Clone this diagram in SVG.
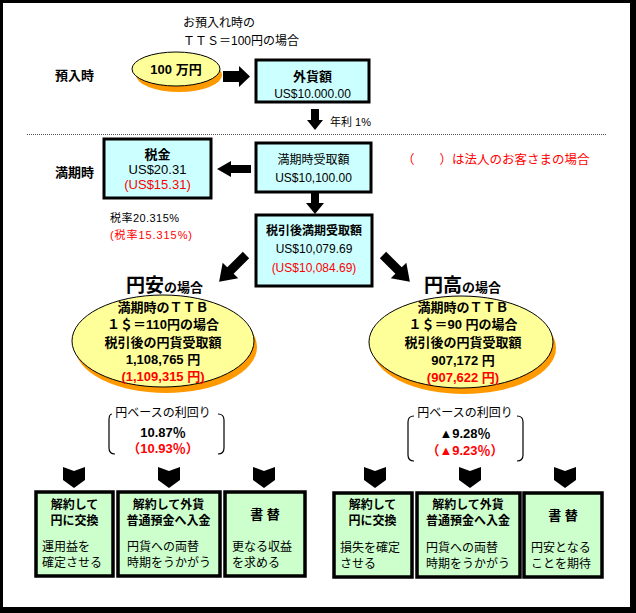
<svg xmlns="http://www.w3.org/2000/svg" width="636" height="613" viewBox="0 0 636 613">
<style>
text { font-family: "Liberation Sans", "Noto Sans CJK JP", sans-serif; fill: #000; }
.c { text-anchor: middle; }
.b { font-weight: bold; }
.r { fill: #FF0000; }
.s11 { font-size: 11px; }
.s12 { font-size: 12px; }
.s13 { font-size: 13px; }
.cy { fill: #CCFFFF; stroke: #000; stroke-width: 3; }
.gr { fill: #CCFFCC; stroke: #000; stroke-width: 3.5; }
.yel { fill: #FFFF99; stroke: #000; stroke-width: 1; }
.org { fill: #FF9900; stroke: none; }
.arr { fill: #000; stroke: none; }
.brk { fill: none; stroke: #000; stroke-width: 1.2; }
</style>
<defs>
<polygon id="chev" points="0,0 11,4 22,0 22,13 11,21 0,13" />
<polygon id="barrow" points="0,-4.5 22,-4.5 22,-11 38,0 22,11 22,4.5 0,4.5" />
</defs>

<!-- frame -->
<rect x="0" y="0" width="636" height="613" fill="#000"/>
<rect x="3" y="3" width="627" height="604" fill="#FFFFFF"/>

<!-- top labels -->
<g id="note-tts">
<text x="183" y="27" class="s12">お預入れ時の</text>
<text x="183" y="45" class="s12">ＴＴＳ＝100円の場合</text>
</g>
<text x="55" y="80" class="s13 b">預入時</text>
<text x="55" y="177" class="s13 b">満期時</text>
<line x1="27" y1="134.5" x2="607" y2="134.5" stroke="#555" stroke-width="1" stroke-dasharray="1,1"/>

<g id="coin-100man">
<ellipse cx="179" cy="75" rx="43" ry="17" class="org"/>
<ellipse cx="176" cy="69" rx="44" ry="17" class="yel"/>
<text x="176" y="74" class="c s13 b">100 万円</text>
</g>

<g id="box-gaika">
<rect x="256" y="60" width="113" height="42" class="cy"/>
<text x="312.5" y="81" class="c s13 b">外貨額</text>
<text x="312.5" y="98" class="c s12">US$10.000.00</text>
</g>
<text x="330" y="126" class="s11">年利 1%</text>

<g id="box-zeikin">
<rect x="104" y="139" width="107" height="59" class="cy"/>
<text x="157.5" y="159" class="c s13 b">税金</text>
<text x="157.5" y="174" class="c s13">US$20.31</text>
<text x="157.5" y="189" class="c s13 r">(US$15.31)</text>
</g>

<g id="box-manki">
<rect x="256" y="143" width="115" height="49" class="cy"/>
<text x="313.5" y="164" class="c s12">満期時受取額</text>
<text x="313.5" y="182" class="c s12">US$10,100.00</text>
</g>

<text x="402" y="164" class="r" style="font-size:12.5px">（　　）は法人のお客さまの場合</text>

<g id="tax-rate">
<text x="110" y="222" class="s11" textLength="69" lengthAdjust="spacing">税率20.315%</text>
<text x="110" y="239" class="s11 r" textLength="82" lengthAdjust="spacing">(税率15.315%)</text>
</g>

<g id="box-zeibiki">
<rect x="256" y="215" width="116" height="71" class="cy"/>
<text x="314" y="235" class="c s12 b">税引後満期受取額</text>
<text x="314" y="253" class="c s12">US$10,079.69</text>
<text x="314" y="272" class="c s12 r">(US$10,084.69)</text>
</g>

<g id="label-enyasu">
<text x="126" y="292"><tspan class="b" style="font-size:19px">円安</tspan><tspan class="b" style="font-size:13px">の場合</tspan></text>
</g>
<g id="label-endaka">
<text x="424" y="292"><tspan class="b" style="font-size:19px">円高</tspan><tspan class="b" style="font-size:13px">の場合</tspan></text>
</g>

<g id="ellipse-enyasu">
<ellipse cx="166" cy="347" rx="91" ry="46" class="org"/>
<ellipse cx="163" cy="341" rx="91" ry="46" class="yel"/>
<text x="163" y="312" class="c s13 b">満期時のＴＴＢ</text>
<text x="163" y="329" class="c s13 b">１＄＝110円の場合</text>
<text x="163" y="347" class="c s13 b">税引後の円貨受取額</text>
<text x="163" y="364" class="c s13 b">1,108,765 円</text>
<text x="163" y="381" class="c s13 b r">(1,109,315 円)</text>
</g>

<g id="ellipse-endaka">
<ellipse cx="464" cy="348" rx="92" ry="46" class="org"/>
<ellipse cx="461" cy="342" rx="92" ry="46" class="yel"/>
<text x="463" y="312" class="c s13 b">満期時のＴＴＢ</text>
<text x="463" y="329" class="c s13 b">１＄＝90 円の場合</text>
<text x="463" y="347" class="c s13 b">税引後の円貨受取額</text>
<text x="463" y="365" class="c s13 b">907,172 円</text>
<text x="463" y="382" class="c s13 b r">(907,622 円)</text>
</g>

<g id="yield-enyasu">
<path class="brk" d="M112 414 Q109 414 109 420 V448 Q109 454 115 454"/>
<path class="brk" d="M218 414 Q224 414 224 420 V448 Q224 454 218 454"/>
<text x="163" y="417" class="c s12">円ベースの利回り</text>
<text x="163" y="437" class="c s13 b">10.87％</text>
<text x="163" y="453" class="c s13 b r">（10.93％）</text>
</g>

<g id="yield-endaka">
<path class="brk" d="M414 416 Q408 416 408 422 V455 Q408 461 414 461"/>
<path class="brk" d="M517 416 Q523 416 523 422 V455 Q523 461 517 461"/>
<text x="465" y="417" class="c s12">円ベースの利回り</text>
<text x="465" y="438" class="c s13 b">▲9.28％</text>
<text x="465" y="455" class="c s13 b r">（▲9.23％）</text>
</g>

<g id="connectors">
<polygon class="arr" points="223,71 239,71 239,66 250,76.5 239,87 239,82 223,82"/>
<polygon class="arr" points="311,109 319,109 319,120 323,120 315,130 307,120 311,120"/>
<polygon class="arr" points="251,165 231,165 231,161 217,169 231,177 231,173 251,173"/>
<polygon class="arr" points="311,193 319,193 319,203 324,203 315,214 306,203 311,203"/>
<use href="#barrow" class="arr" transform="translate(246,255) rotate(135)"/>
<use href="#barrow" class="arr" transform="translate(383,255) rotate(45)"/>
<use href="#chev" class="arr" transform="translate(63,467)"/>
<use href="#chev" class="arr" transform="translate(158,467)"/>
<use href="#chev" class="arr" transform="translate(253,467)"/>
<use href="#chev" class="arr" transform="translate(364,467)"/>
<use href="#chev" class="arr" transform="translate(459,467)"/>
<use href="#chev" class="arr" transform="translate(554,467)"/>
</g>

<g id="box-l1">
<rect x="36" y="492" width="77" height="84" class="gr"/>
<text x="74.5" y="509" class="c s12 b">解約して</text>
<text x="74.5" y="525" class="c s12 b">円に交換</text>
<text x="42" y="551" class="s12">運用益を</text>
<text x="42" y="567" class="s12">確定させる</text>
</g>
<g id="box-l2">
<rect x="118" y="492" width="102" height="84" class="gr"/>
<text x="168.5" y="509" class="c s12 b">解約して外貨</text>
<text x="168.5" y="525" class="c s12 b">普通預金へ入金</text>
<text x="127" y="551" class="s12">円貨への両替</text>
<text x="127" y="567" class="s12">時期をうかがう</text>
</g>
<g id="box-l3">
<rect x="225" y="492" width="80" height="84" class="gr"/>
<text x="265" y="519" class="c s13 b">書 替</text>
<text x="232" y="551" class="s12">更なる収益</text>
<text x="232" y="567" class="s12">を求める</text>
</g>
<g id="box-r1">
<rect x="334" y="493" width="78" height="84" class="gr"/>
<text x="372.5" y="509" class="c s12 b">解約して</text>
<text x="372.5" y="525" class="c s12 b">円に交換</text>
<text x="340" y="552" class="s12">損失を確定</text>
<text x="340" y="568" class="s12">させる</text>
</g>
<g id="box-r2">
<rect x="417" y="493" width="103" height="84" class="gr"/>
<text x="468" y="509" class="c s12 b">解約して外貨</text>
<text x="468" y="525" class="c s12 b">普通預金へ入金</text>
<text x="426" y="552" class="s12">円貨への両替</text>
<text x="426" y="568" class="s12">時期をうかがう</text>
</g>
<g id="box-r3">
<rect x="524" y="493" width="78" height="84" class="gr"/>
<text x="563" y="520" class="c s13 b">書 替</text>
<text x="531" y="552" class="s12">円安となる</text>
<text x="531" y="568" class="s12">ことを期待</text>
</g>
</svg>
